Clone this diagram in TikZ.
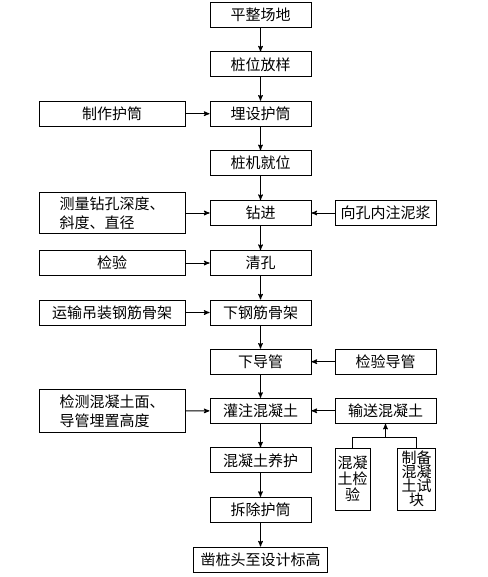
\documentclass[tikz,border=0pt]{standalone}
\usepackage{fontspec}
\setmainfont{Noto Sans CJK SC}
\usetikzlibrary{arrows}

\begin{document}
\begin{tikzpicture}[->,>=stealth',x=1pt,y=-1pt,line width=1pt]
    \tikzstyle{every node}=[font=\fontsize{15}{19}\selectfont]
    \tikzstyle{stepbox}=[shape=rectangle, fill=white, draw=black, text=black, minimum width=101pt, minimum height=25pt, inner sep=0pt]
    \tikzstyle{leftbox}=[stepbox, minimum width=146pt]
    \tikzstyle{testbox}=[stepbox, minimum width=35pt, minimum height=62pt, inner sep=1pt, align=center]

\useasboundingbox (0,0) rectangle (487,577);

\node[stepbox]         (pzcd) at (260.5, 15)       {平整场地};
\node[stepbox]         (zwfy) at (260.5, 64.5)     {桩位放样};
\node[stepbox]         (msht) at (260.5, 113.7)    {埋设护筒};
\node[stepbox]         (zjjw) at (260.5, 163.2)    {桩机就位};
\node[stepbox]         (zj) at (260.5, 213)        {钻进};
\node[stepbox]         (qk) at (260.5, 263)        {清孔};
\node[stepbox]         (xgj) at (260.5, 312.5)     {下钢筋骨架};
\node[stepbox]         (xdg) at (260.5, 361.7)     {下导管};
\node[stepbox]         (gz) at (260.5, 410.8)      {灌注混凝土};
\node[stepbox]         (yh) at (260.5, 460.3)      {混凝土养护};
\node[stepbox]         (cc) at (260.5, 509.8)      {拆除护筒};
\node[stepbox, minimum width=134pt] (zt) at (260.5, 559.5) {凿桩头至设计标高};

\node[leftbox]         (zzht) at (112, 113.7)      {制作护筒};
\node[leftbox, minimum height=40.6pt, align=left] (clzk) at (112, 213) {测量钻孔深度、\\斜度、直径};
\node[leftbox]         (jy) at (112, 263)          {检验};
\node[leftbox]         (ys) at (112, 312.5)        {运输吊装钢筋骨架};
\node[leftbox, minimum height=43.4pt, align=left] (jc) at (112, 411) {检测混凝土面、\\导管埋置高度};

\node[stepbox]         (zny) at (385.5, 213)       {向孔内注泥浆};
\node[stepbox]         (jydg) at (385.5, 361.7)    {检验导管};
\node[stepbox]         (sshnt) at (385.5, 410.8)   {输送混凝土};
\node[testbox, font=\fontsize{15}{16}\selectfont] (hntjy) at (352.5, 479.2) {混凝\\土检\\验};
\node[testbox, minimum width=38pt, font=\fontsize{15}{14}\selectfont] (zbsk) at (416.7, 479.2) {制备\\混凝\\土试\\块};
\coordinate            (fork) at (385.5, 437.3);

\path
(pzcd) edge (zwfy)
(zwfy) edge (msht)
(msht) edge (zjjw)
(zjjw) edge (zj)
(zj) edge (qk)
(qk) edge (xgj)
(xgj) edge (xdg)
(xdg) edge (gz)
(gz) edge (yh)
(yh) edge (cc)
(cc) edge (zt)
(zzht) edge (msht)
(clzk) edge (zj)
(jy) edge (qk)
(ys) edge (xgj)
(jc) edge (gz)
(zny) edge (zj)
(jydg) edge (xdg)
(sshnt) edge (gz);

\draw[-] (hntjy.north) |- (fork) -| (zbsk.north);
\draw[->] (fork) -- (sshnt.south);
\end{tikzpicture}
\end{document}
